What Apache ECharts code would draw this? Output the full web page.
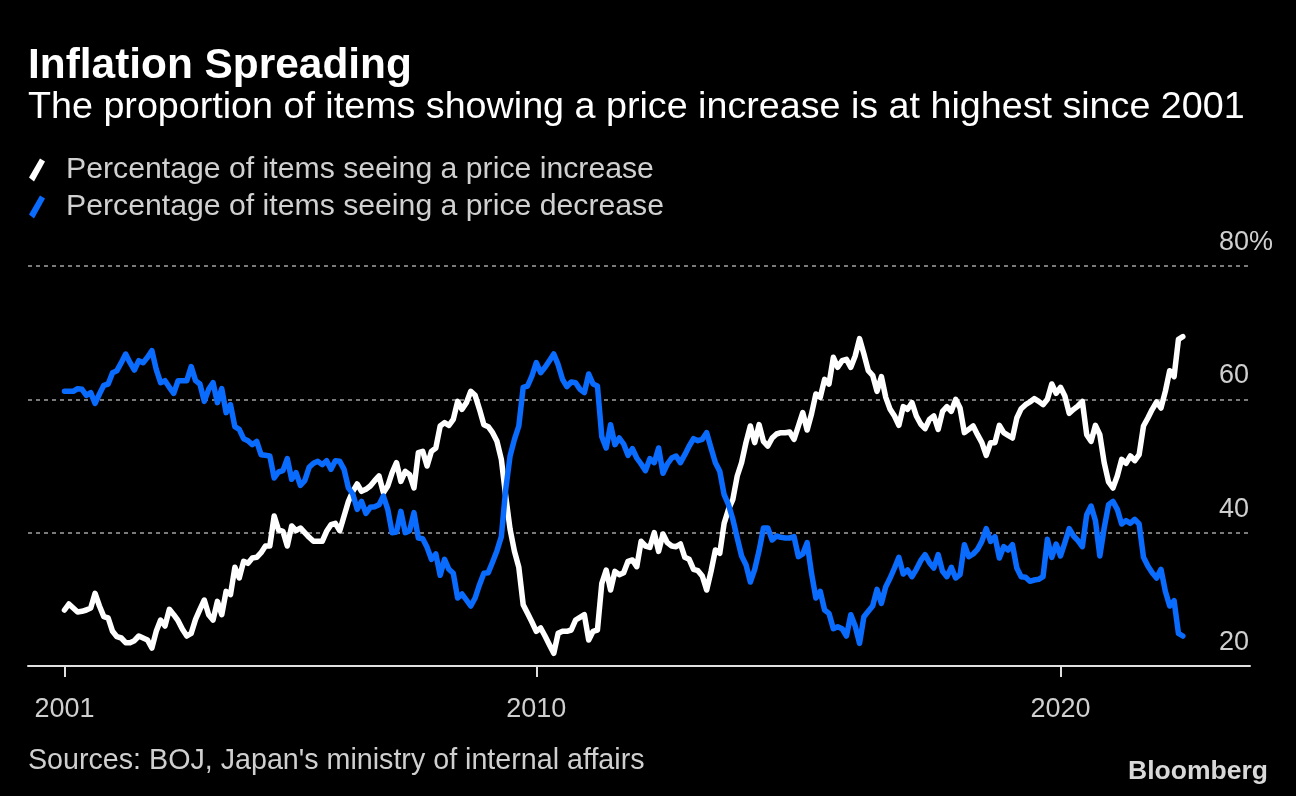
<!DOCTYPE html>
<html><head><meta charset="utf-8">
<script src="https://cdn.jsdelivr.net/npm/echarts@6/dist/echarts.min.js"></script>
<style>html,body{margin:0;padding:0;background:#000;}#c{width:1296px;height:796px;}</style>
</head><body><div id="c"></div>
<script>
// ---- data ----
const startYear = 2001;
const months = [];
for (let y = 2001; y <= 2022; y++) for (let m = 1; m <= 12; m++) { if (y === 2022 && m > 5) break; months.push(y + '-' + String(m).padStart(2, '0')); }
const tickYears = [2001, 2010, 2020];
const yTicks = [20, 40, 60, 80];
const seriesNames = ['Percentage of items seeing a price increase', 'Percentage of items seeing a price decrease'];
const increase = [
28.4,29.3,28.7,28.1,28.2,28.4,28.7,30.9,29.0,27.4,
27.2,25.2,24.4,24.2,23.5,23.5,23.8,24.5,24.2,23.9,
22.7,25.2,26.9,26.0,28.5,27.7,26.8,25.5,24.5,24.9,
27.0,28.5,29.9,27.7,26.9,29.7,27.7,31.2,30.7,34.8,
33.2,35.7,35.4,36.2,36.3,37.0,38.0,38.0,42.5,40.4,
40.2,38.0,41.0,40.3,40.7,40.0,39.3,38.7,38.7,38.7,
40.2,41.2,41.4,40.3,42.5,44.7,46.2,47.3,46.2,46.5,
47.0,47.8,48.5,46.0,47.0,49.0,50.5,47.7,49.2,48.7,
46.7,52.0,52.2,50.0,52.2,52.7,56.0,56.5,56.1,57.0,
59.7,58.5,59.5,61.2,60.6,58.5,56.2,55.9,55.0,53.7,
51.0,45.5,40.5,37.2,34.8,29.2,27.9,26.6,25.2,25.7,
24.5,23.2,21.9,24.9,25.2,25.2,25.4,26.9,27.3,27.7,
23.9,25.2,25.4,32.4,34.4,31.4,34.2,33.7,34.0,35.7,
35.9,34.9,38.7,38.0,37.8,40.0,37.2,39.8,38.5,38.0,
37.9,38.3,36.3,36.0,34.5,34.3,33.5,31.4,34.2,37.4,
36.9,41.4,43.5,45.0,48.5,50.5,53.5,56.0,53.5,56.2,
53.7,53.0,54.2,54.8,55.0,55.0,55.1,54.0,56.0,58.0,
55.4,57.8,60.8,60.3,63.0,62.3,66.3,64.8,65.8,66.0,
64.8,66.5,69.1,66.8,64.3,63.6,61.2,63.4,60.3,58.5,
57.5,56.1,58.9,58.5,59.5,57.5,56.3,55.6,57.0,57.5,
55.5,58.2,58.9,58.2,60.0,58.7,55.0,55.5,56.0,54.7,
53.5,51.6,53.5,53.5,56.1,55.0,54.6,54.2,57.2,58.6,
59.2,59.6,60.1,59.7,59.2,60.0,62.3,60.9,61.8,60.5,
57.9,58.5,59.0,59.7,54.7,53.7,56.1,54.7,50.5,47.6,
46.7,48.5,51.0,50.4,51.5,50.8,51.7,56.0,57.2,58.5,
59.6,58.7,61.2,64.3,63.4,69.0,69.4
];
const decrease = [
61.2,61.2,61.2,61.6,61.5,60.6,61.0,59.4,60.8,62.1,
62.3,64.0,64.3,65.5,66.8,65.5,64.4,65.8,65.5,66.3,
67.3,64.5,62.5,62.8,61.8,60.9,62.8,62.8,62.8,64.9,
62.8,62.3,59.7,61.5,62.5,59.5,61.6,58.0,59.2,55.9,
55.5,54.1,53.8,53.2,53.7,51.7,51.6,51.5,48.2,49.1,
49.3,51.1,48.0,49.0,47.1,47.8,49.8,50.4,50.7,50.2,
50.8,49.5,50.8,50.7,49.5,46.7,45.8,43.5,44.7,42.9,
43.8,43.9,44.2,45.5,43.5,40.0,40.1,43.2,40.0,40.3,
43.0,39.2,39.1,37.8,36.0,36.8,33.6,36.0,34.5,33.9,
30.2,30.8,29.9,29.0,30.2,32.2,33.9,34.0,35.6,37.3,
39.4,46.5,51.5,54.0,56.0,61.8,62.0,63.5,65.5,64.0,
64.8,65.8,66.8,65.2,63.0,61.9,62.6,62.5,61.5,61.0,
63.8,62.3,62.0,54.4,52.7,56.2,53.2,54.2,53.3,51.6,
52.6,51.2,50.3,49.3,51.1,50.5,52.7,48.9,50.3,51.2,
51.5,50.5,51.7,53.0,54.1,53.8,54.0,55.0,52.7,50.5,
49.2,45.7,44.2,42.0,39.2,36.5,35.2,32.6,34.5,37.3,
40.7,40.7,38.9,39.5,39.3,39.2,39.2,39.4,36.4,36.8,
38.5,33.9,30.2,31.2,28.4,27.9,25.6,25.9,25.6,24.5,
27.7,26.0,23.4,27.4,28.2,29.0,31.5,29.4,31.9,33.2,
34.7,36.3,33.8,34.4,33.4,34.5,35.8,36.7,35.5,34.7,
36.7,34.2,33.4,34.8,33.2,33.7,38.2,36.4,36.8,37.5,
38.7,40.6,38.7,39.4,36.2,37.9,37.4,38.2,34.7,33.4,
33.3,32.7,32.9,33.0,33.4,39.0,36.3,38.3,36.5,38.5,
40.6,39.5,38.8,37.9,42.7,44.0,41.8,36.5,40.7,44.2,
44.7,43.5,41.3,41.8,41.4,42.0,41.3,36.3,35.0,34.0,
33.2,34.5,31.2,29.0,29.8,24.9,24.5
];

// ---- layout helpers ----
const FONT = '"Liberation Sans", Arial, sans-serif';
const ctx = document.createElement('canvas').getContext('2d');
function fit(text, weight, target) { ctx.font = weight + ' 100px ' + FONT; return 100 * target / ctx.measureText(text).width; }
const titleText = 'Inflation Spreading';
const subText = 'The proportion of items showing a price increase is at highest since 2001';
const srcText = "Sources: BOJ, Japan's ministry of internal affairs";
const fsTitle = fit(titleText, 'bold', 384);
const fsSub = fit(subText, 'normal', 1217);
const fsLeg = fit(seriesNames[0], 'normal', 588);
const fsSrc = fit(srcText, 'normal', 617);
const fsBrand = fit('Bloomberg', 'bold', 140);
const fsAxis = 27;

const monthIndex = s => { const [y, m] = s.split('-').map(Number); return (y - startYear) * 12 + (m - 1); };
const tickPos = tickYears.map(y => monthIndex(y + '-01'));
const pxPerMonth = (1060.5 - 64.5) / (tickPos[2] - tickPos[0]);
const xMin = -(64.5 - 28) / pxPerMonth;
const xMax = (1250 - 64.5) / pxPerMonth;

const iconPath = 'path://M0,19 L11,0 L16,3 L5,23 Z';
const blue = '#0a6cff';

const chart = echarts.init(document.getElementById('c'), null, { renderer: 'canvas' });
chart.setOption({
  backgroundColor: '#000',
  animation: false,
  title: [
    { text: titleText, left: 28, top: 66 - fsTitle / 2, padding: 0,
      textStyle: { color: '#fff', fontWeight: 'bold', fontSize: fsTitle, lineHeight: fsTitle, fontFamily: FONT } },
    { text: subText, left: 28, top: 108 - fsSub / 2, padding: 0,
      textStyle: { color: '#fff', fontWeight: 'normal', fontSize: fsSub, lineHeight: fsSub, fontFamily: FONT } },
    { text: srcText, left: 28, top: 761 - fsSrc / 2, padding: 0,
      textStyle: { color: '#cfcfcf', fontWeight: 'normal', fontSize: fsSrc, lineHeight: fsSrc, fontFamily: FONT } },
    { text: 'Bloomberg', right: 28, top: 772 - fsBrand / 2, padding: 0,
      textStyle: { color: '#d8d8d8', fontWeight: 'bold', fontSize: fsBrand, lineHeight: fsBrand, fontFamily: FONT } }
  ],
  legend: {
    left: 29, top: 170 - 15, orient: 'vertical', padding: 0, itemGap: 7,
    itemWidth: 16, itemHeight: 23,
    textStyle: { color: '#d0d0d0', fontSize: fsLeg, lineHeight: 30, fontFamily: FONT, padding: [0, 0, 0, 16] },
    data: [
      { name: seriesNames[0], icon: iconPath, itemStyle: { color: '#fff' } },
      { name: seriesNames[1], icon: iconPath, itemStyle: { color: blue } }
    ]
  },
  grid: { left: 28, right: 46, top: 266, bottom: 130 },
  xAxis: {
    type: 'value', min: xMin, max: xMax,
    axisLine: { show: true, lineStyle: { color: '#e0e0e0', width: 2 } },
    axisTick: { show: true, customValues: tickPos, length: 11, lineStyle: { color: '#e0e0e0', width: 2 } },
    axisLabel: { customValues: tickPos, color: '#cfcfcf', fontSize: fsAxis, fontFamily: FONT, margin: 30,
      formatter: v => String(startYear + Math.round(v / 12)) },
    splitLine: { show: false }
  },
  yAxis: {
    type: 'value', position: 'right', min: yTicks[0], max: yTicks[yTicks.length - 1], interval: 20,
    axisLine: { show: false }, axisTick: { show: false },
    splitLine: { show: true, lineStyle: { color: '#7a7a7a', width: 2, type: [4, 4] } },
    axisLabel: { margin: -31, color: '#cfcfcf', fontSize: fsAxis, fontFamily: FONT, align: 'left',
      verticalAlign: 'bottom', lineHeight: 27, padding: [0, 0, 10, 0],
      formatter: v => v === 80 ? v + '%' : String(v) }
  },
  series: [
    { name: seriesNames[0], type: 'line', showSymbol: false, symbol: 'none',
      data: increase.map((v, i) => [monthIndex(months[i]), v]),
      itemStyle: { color: '#fff' }, lineStyle: { color: '#fff', width: 5.5, join: 'round', cap: 'round' } },
    { name: seriesNames[1], type: 'line', showSymbol: false, symbol: 'none',
      data: decrease.map((v, i) => [monthIndex(months[i]), v]),
      itemStyle: { color: blue }, lineStyle: { color: blue, width: 5.5, join: 'round', cap: 'round' } }
  ]
});
</script>
</body></html>
